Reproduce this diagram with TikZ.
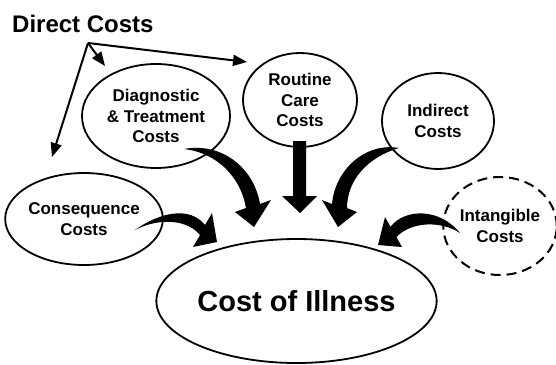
\documentclass[tikz,border=0pt]{standalone}
\usepackage{fontspec}
\setmainfont{Liberation Sans}
\usetikzlibrary{shapes.geometric,arrows.meta}
\begin{document}
\begin{tikzpicture}[x=1pt,y=-1pt,
  bub/.style={ellipse,draw,line width=1.8pt,inner sep=0pt,align=center,
    font=\fontsize{17pt}{20.5pt}\selectfont\bfseries},
  dashbub/.style={bub,dash pattern=on 10pt off 6pt,line width=2pt},
  bigbub/.style={ellipse,draw,line width=1.8pt,inner sep=0pt,
    font=\fontsize{29pt}{34pt}\selectfont\bfseries},
  thinarrow/.style={line width=2pt,-{Triangle[length=14pt,width=11pt]}},
  blockarrow/.style={fill=black,draw=none}]
\useasboundingbox (0,0) rectangle (556,364);

% title
\node[anchor=base west,inner sep=0pt,font=\fontsize{24pt}{28pt}\selectfont\bfseries] (direct) at (12,32) {Direct Costs};

% bubbles
\node[bub,minimum width=148pt,minimum height=104pt] (diag) at (156,116) {Diagnostic\\\& Treatment\\Costs};
\node[bub,minimum width=114pt,minimum height=94pt] (routine) at (300,100) {Routine\\Care\\Costs};
\node[bub,minimum width=112pt,minimum height=96pt] (indirect) at (438,121) {Indirect\\Costs};
\node[bub,minimum width=150pt,minimum height=92pt] (conseq) at (84,219) {Consequence\\Costs};
\node[dashbub,minimum width=108pt,minimum height=98pt] (intang) at (500,226) {Intangible\\Costs};
\node[bigbub,minimum width=265pt,minimum height=124pt] (coi) at (296.5,301) {Cost of Illness};

% direct cost arrows
\coordinate (dc) at (88,43);
\coordinate (dcA) at (52,157);
\coordinate (dcB) at (105,66);
\coordinate (dcC) at (247,62);
\draw[thinarrow] (dc) -- (dcA);
\draw[thinarrow] (dc) -- (dcB);
\draw[thinarrow] (dc) -- (dcC);

% block arrows
% from Diagnostic
\fill[blockarrow] (184,149) .. controls (222,142) and (254,168) .. (260,204)
  -- (271,200) -- (254,227) -- (235,212) -- (246,208)
  .. controls (241,178) and (218,153) .. (184,149) -- cycle;
% from Routine
\fill[blockarrow] (293,141) -- (306,141) -- (306,196) -- (317,196) -- (300,213)
  -- (282,196) -- (293,196) -- cycle;
% from Indirect
\fill[blockarrow] (399,148) .. controls (365,142) and (335,170) .. (332,204)
  -- (322,200) -- (338,227) -- (357,212) -- (347,208)
  .. controls (347,180) and (368,157) .. (399,148) -- cycle;
% from Consequence
\fill[blockarrow] (135,230) .. controls (160,212) and (190,206) .. (205,225)
  -- (212,213) -- (217,242) -- (193,247) -- (200,235)
  .. controls (188,220) and (160,217) .. (135,230) -- cycle;
% from Intangible
\fill[blockarrow] (460,233) .. controls (440,208) and (405,208) .. (390.5,226.8)
  -- (385,217) -- (378,245) -- (402,247) -- (396.5,237.2)
  .. controls (410,222) and (440,220) .. (460,233) -- cycle;
\end{tikzpicture}
\end{document}
